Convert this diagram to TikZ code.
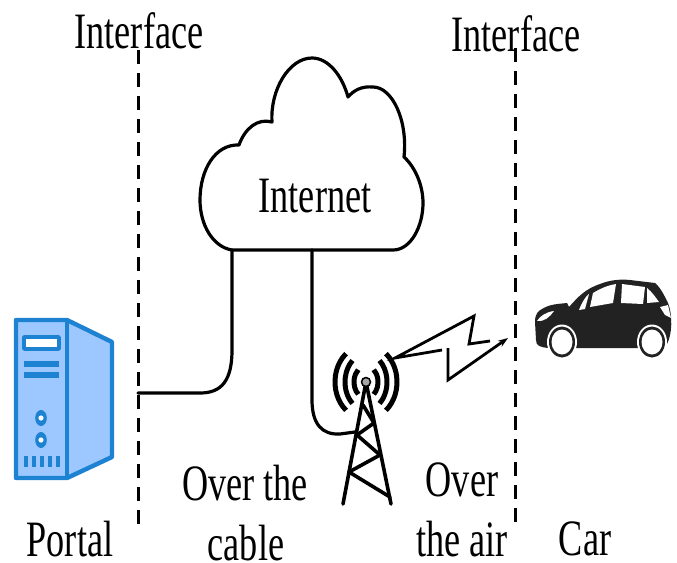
\documentclass[tikz,border=0pt]{standalone}
\usepackage{fontspec}
\setmainfont{Liberation Serif}
\usetikzlibrary{arrows.meta}
\definecolor{serverblue}{HTML}{1E82D2}
\definecolor{serverfill}{HTML}{9CC8FF}
\definecolor{carblack}{HTML}{222222}
\tikzset{
    label text/.style={font=\fontsize{51}{51}\selectfont,xscale=0.71,inner sep=0pt},
    interface line/.style={line width=3pt,dash pattern=on 14pt off 9pt},
    cable/.style={line width=3.2pt,line cap=round},
    server line/.style={draw=serverblue,line width=4.4pt,line join=round},
    tower line/.style={line width=3.6pt,line cap=round,line join=round},
    wave/.style={line width=5pt}
}
\begin{document}
\begin{tikzpicture}[x=1pt,y=-1pt]
    \useasboundingbox (0,0) rectangle (677,562);
    % interfaces
    \coordinate (I1t) at (138,50);
    \coordinate (I1b) at (138,525);
    \coordinate (I2t) at (515,48);
    \coordinate (I2b) at (515,525);
    \draw[interface line] (I1t) -- (I1b);
    \draw[interface line] (I2t) -- (I2b);
    % cloud
    \coordinate (CL) at (232,250);
    \coordinate (CM) at (312,250);
    \coordinate (CR) at (393,250);
    \draw[line width=3.2pt,line join=round] (CL) -- (CM) -- (CR)
        .. controls (411,250) and (423,226) .. (423,203)
        .. controls (423,185) and (415,167) .. (404,157)
        .. controls (408,120) and (392,87) .. (373,87)
        .. controls (362,86) and (354,90) .. (348,97)
        .. controls (342,75) and (328,58) .. (312,58)
        .. controls (289,58) and (270,90) .. (272,122)
        .. controls (258,118) and (245,128) .. (239,145)
        .. controls (215,144) and (200,170) .. (200,200)
        .. controls (200,225) and (213,247) .. (232,250) -- cycle;
    \node[label text] (internet) at (315,196) {Internet};
    % cables
    \coordinate (P) at (138,393);
    \coordinate (T) at (355,432);
    \draw[cable] (CL) -- (232,350) .. controls (232,380) and (222,393) .. (200,393) -- (P);
    \draw[cable] (CM) -- (312,400) .. controls (312,424) and (322,435) .. (340,434) -- (T);
    % server
    \filldraw[server line,fill=serverfill] (16,320) -- (67,320) -- (112,342) -- (112,457)
        -- (67,478) -- (16,478) -- cycle;
    \draw[server line] (67,320) -- (67,478);
    \filldraw[server line,line width=3.5pt,fill=white] (24,337) rectangle (59,349);
    \fill[serverblue] (24,361) rectangle (59,367);
    \fill[serverblue] (24,372) rectangle (59,378);
    \foreach \y in {418,440}{
        \fill[serverblue] (41,\y) ellipse (5.8pt and 8pt);
        \fill[white] (41,\y) circle (2.6pt);
    }
    \foreach \x in {24,32,40,48,56}{
        \fill[serverblue] (\x,456) rectangle ++(4,11);
    }
    % tower
    \coordinate (top) at (366,382);
    \draw[tower line] (343,504) -- (top) -- (391,504);
    \draw[tower line] (363,405) -- (374,423) -- (357,435) -- (380,455) -- (349,472) -- (390,497);
    \foreach \r/\h in {12/16,21/28,31/37}{
        \draw[wave] (top) ++({\r*cos(130)},{\h*sin(130)}) arc[start angle=130,end angle=230,x radius=\r,y radius=\h];
        \draw[wave] (top) ++({\r*cos(50)},{\h*sin(50)}) arc[start angle=50,end angle=-50,x radius=\r,y radius=\h];
    }
    \filldraw[line width=1.5pt,fill=black!35] (top) circle (4.5pt);
    % bolt
    \coordinate (Bs) at (395,358);
    \coordinate (Be) at (508,338);
    \draw[line width=2.8pt,line join=miter] (442,350) -- (Bs) -- (474,316) -- (469,344) -- (490,341);
    \draw[line width=2.8pt,line join=miter,-{Stealth[length=10pt,width=7pt]}] (448,348) -- (448,380) -- (Be);
    % car
    \fill[carblack] (535,322) .. controls (535,314) and (538,311) .. (542,309)
        .. controls (550,304) and (558,304) .. (567,303) -- (569,307)
        .. controls (578,297) and (585,289) .. (600,284)
        .. controls (610,280) and (620,279) .. (630,280)
        -- (655,283) .. controls (661,288) and (665,297) .. (668,303)
        .. controls (673,315) and (672,335) .. (667,344)
        -- (640,348) -- (575,348) -- (548,348)
        .. controls (540,347) and (536,346) .. (536,340) -- cycle;
    \fill[white] (590,307) -- (593,293) .. controls (603,287) and (610,285) .. (616,284)
        -- (613,303) -- cycle;
    \fill[white] (579,310) .. controls (582,302) and (586,296) .. (589,294) -- (585,309) -- cycle;
    \fill[white] (622,284) -- (645,287) -- (643,304) -- (621,303) -- cycle;
    \fill[white] (647,288) .. controls (653,293) and (656,298) .. (659,302) -- (647,303) -- cycle;
    \fill[white] (537,321) .. controls (540,316) and (546,312) .. (554,311)
        .. controls (550,317) and (544,322) .. (537,321) -- cycle;
    \fill[white] (660,307) -- (668,305) -- (671,318) -- (665,315) -- cycle;
    \foreach \x in {562,652}{
        \fill[white] (\x,342) ellipse (15pt and 17.5pt);
        \fill[carblack] (\x,342) ellipse (13pt and 15.5pt);
        \fill[white] (\x,342) ellipse (10.5pt and 12.5pt);
    }
    % labels
    \node[label text] (if1) at (139,31) {Interface};
    \node[label text] (if2) at (516,34) {Interface};
    \node[label text] (portal) at (70,539) {Portal};
    \node[label text] (car) at (585,539) {Car};
    \node[label text] (ot1) at (245,483) {Over the};
    \node[label text] (ot2) at (246,543) {cable};
    \node[label text] (oa1) at (462,480) {Over};
    \node[label text] (oa2) at (462,539) {the air};
\end{tikzpicture}
\end{document}
